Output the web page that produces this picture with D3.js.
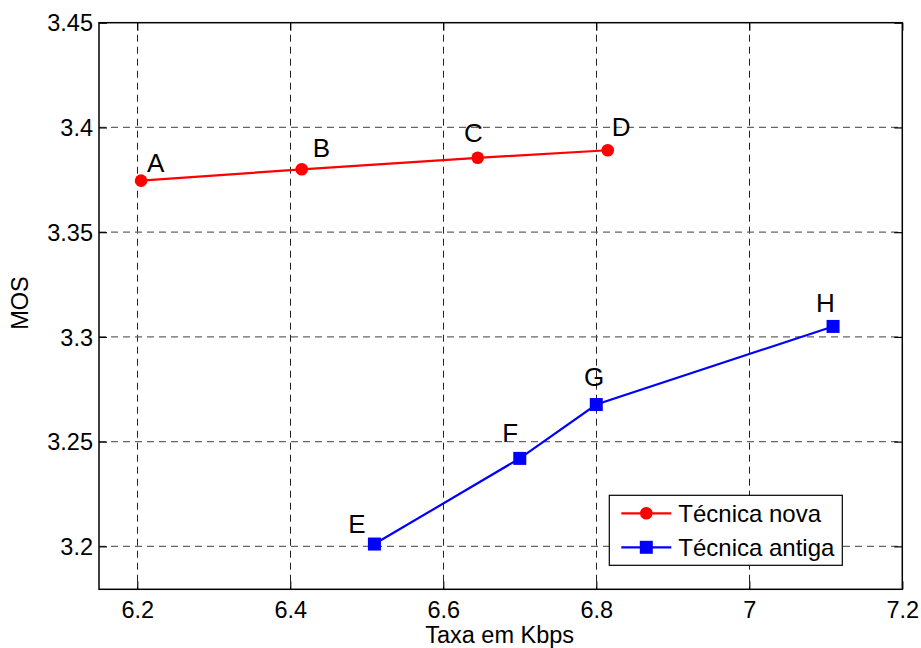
<!DOCTYPE html>
<html>
<head>
<meta charset="utf-8">
<script src="https://cdn.jsdelivr.net/npm/d3@7"></script>
<style>
  body { margin: 0; background: #fff; }
  text { font-family: "Liberation Sans", Arial, sans-serif; }
</style>
</head>
<body>
<div id="chart"></div>
<script>
// Técnica nova (red, circles)
var novaRate = [6.205, 6.415, 6.645, 6.815];
var novaMos = [3.3746, 3.3800, 3.3855, 3.3891];
var novaNames = ["A", "B", "C", "D"];
var novaLabelX = [6.2127, 6.4293, 6.6271, 6.8201];
var novaLabelY = [3.3787, 3.3860, 3.3929, 3.3959];

// Técnica antiga (blue, squares)
var antigaRate = [6.51, 6.70, 6.80, 7.1095];
var antigaMos = [3.2011, 3.2420, 3.2677, 3.3050];
var antigaNames = ["E", "F", "G", "H"];
var antigaLabelX = [6.4758, 6.6771, 6.7839, 7.0872];
var antigaLabelY = [3.2065, 3.2500, 3.2767, 3.3119];

var xTicks = [6.2, 6.4, 6.6, 6.8, 7.0, 7.2];
var yTicks = [3.2, 3.25, 3.3, 3.35, 3.4, 3.45];
var seriesNames = ["Técnica nova", "Técnica antiga"];

var margin = {top: 22.7, right: 18.7, bottom: 58.7, left: 99},
    width = 921 - margin.left - margin.right,
    height = 648 - margin.top - margin.bottom;

var svg = d3.select("#chart")
    .append("svg")
    .attr("width", 921)
    .attr("height", 648);

var g = svg.append("g")
    .attr("transform", `translate(${margin.left},${margin.top})`);

var x = d3.scaleLinear().domain([6.15, 7.2]).range([0, width]);
var y = d3.scaleLinear().domain([3.1795, 3.45]).range([height, 0]);

// grid lines
g.selectAll(".vgrid")
    .data(xTicks.filter(d => d < 7.2))
    .join("line")
    .attr("class", "vgrid")
    .attr("x1", d => Math.round(x(d)) + 0.5)
    .attr("x2", d => Math.round(x(d)) + 0.5)
    .attr("y1", 0)
    .attr("y2", height)
    .attr("stroke", "#222")
    .attr("stroke-width", 1)
    .attr("stroke-dasharray", "7,5");

g.selectAll(".hgrid")
    .data(yTicks.filter(d => d < 3.45))
    .join("line")
    .attr("class", "hgrid")
    .attr("x1", 0)
    .attr("x2", width)
    .attr("y1", d => y(d))
    .attr("y2", d => y(d))
    .attr("stroke", "#666")
    .attr("stroke-width", 1.2)
    .attr("stroke-dasharray", "7,5");

// axes (ticks inside, box on)
var fontSize = 23.5;
var xAxis = g.append("g")
    .attr("transform", `translate(0,${height})`)
    .call(d3.axisBottom(x).tickValues(xTicks).tickFormat(d3.format("")).tickSizeInner(-8).tickSizeOuter(0).tickPadding(12));
var xAxisTop = g.append("g")
    .call(d3.axisTop(x).tickValues(xTicks).tickFormat("").tickSizeInner(-8).tickSizeOuter(0));
var yAxis = g.append("g")
    .call(d3.axisLeft(y).tickValues(yTicks).tickFormat(d3.format("")).tickSizeInner(-8).tickSizeOuter(0).tickPadding(6));
var yAxisRight = g.append("g")
    .attr("transform", `translate(${width},0)`)
    .call(d3.axisRight(y).tickValues(yTicks).tickFormat("").tickSizeInner(-8).tickSizeOuter(0));

[xAxis, xAxisTop, yAxis, yAxisRight].forEach(function (a) {
    a.select(".domain").remove();
    a.selectAll("line").attr("stroke", "#000").attr("stroke-width", 1.2);
    a.selectAll("text")
        .attr("font-family", "Liberation Sans, Arial, sans-serif")
        .attr("font-size", fontSize)
        .attr("fill", "#000");
});
yAxis.selectAll("text").attr("dy", "0.35em");
xAxis.selectAll("text").attr("dy", "0.71em");

g.append("rect")
    .attr("x", 0)
    .attr("y", 0)
    .attr("width", width)
    .attr("height", height)
    .attr("fill", "none")
    .attr("stroke", "#000")
    .attr("stroke-width", 1.5);

// axis labels
svg.append("text")
    .attr("x", margin.left + width / 2 - 1)
    .attr("y", 643)
    .attr("text-anchor", "middle")
    .attr("font-size", fontSize)
    .text("Taxa em Kbps");

svg.append("text")
    .attr("transform", `translate(28,${margin.top + height / 2 - 3}) rotate(-90)`)
    .attr("text-anchor", "middle")
    .attr("font-size", fontSize)
    .text("MOS");

var line = d3.line()
    .x(d => x(d[0]))
    .y(d => y(d[1]));

var nova = novaRate.map((d, i) => [d, novaMos[i]]);
var antiga = antigaRate.map((d, i) => [d, antigaMos[i]]);

// red series
g.append("path")
    .datum(nova)
    .attr("fill", "none")
    .attr("stroke", "#ff0000")
    .attr("stroke-width", 2.2)
    .attr("d", line);
g.selectAll(".dot")
    .data(nova)
    .join("circle")
    .attr("class", "dot")
    .attr("cx", d => x(d[0]))
    .attr("cy", d => y(d[1]))
    .attr("r", 6.3)
    .attr("fill", "#ff0000");

// blue series
g.append("path")
    .datum(antiga)
    .attr("fill", "none")
    .attr("stroke", "#0000ff")
    .attr("stroke-width", 2.2)
    .attr("d", line);
g.selectAll(".sq")
    .data(antiga)
    .join("rect")
    .attr("class", "sq")
    .attr("x", d => x(d[0]) - 6.5)
    .attr("y", d => y(d[1]) - 6.5)
    .attr("width", 13)
    .attr("height", 13)
    .attr("fill", "#0000ff");

// point labels
var labels = novaNames.map((n, i) => ({name: n, x: novaLabelX[i], y: novaLabelY[i]}))
    .concat(antigaNames.map((n, i) => ({name: n, x: antigaLabelX[i], y: antigaLabelY[i]})));
g.selectAll(".lbl")
    .data(labels)
    .join("text")
    .attr("class", "lbl")
    .attr("x", d => x(d.x))
    .attr("y", d => y(d.y))
    .attr("font-size", 26)
    .attr("fill", "#000")
    .text(d => d.name);

// legend
var lgW = 233, lgH = 70;
var legend = g.append("g")
    .attr("transform", `translate(${width - 60 - lgW},${height - 24 - lgH})`);
legend.append("rect")
    .attr("width", lgW)
    .attr("height", lgH)
    .attr("fill", "#fff")
    .attr("stroke", "#000")
    .attr("stroke-width", 1.2);

var rows = legend.selectAll(".row")
    .data(seriesNames)
    .join("g")
    .attr("class", "row")
    .attr("transform", (d, i) => `translate(0,${18 + i * 34})`);
rows.append("line")
    .attr("x1", 12)
    .attr("x2", 62)
    .attr("stroke", (d, i) => i === 0 ? "#ff0000" : "#0000ff")
    .attr("stroke-width", 2.2);
rows.filter((d, i) => i === 0).append("circle")
    .attr("cx", 37)
    .attr("r", 6.3)
    .attr("fill", "#ff0000");
rows.filter((d, i) => i === 1).append("rect")
    .attr("x", 30.5)
    .attr("y", -6.5)
    .attr("width", 13)
    .attr("height", 13)
    .attr("fill", "#0000ff");
rows.append("text")
    .attr("x", 69)
    .attr("dy", "0.35em")
    .attr("font-size", 24)
    .attr("fill", "#000")
    .text(d => d);
</script>
</body>
</html>
